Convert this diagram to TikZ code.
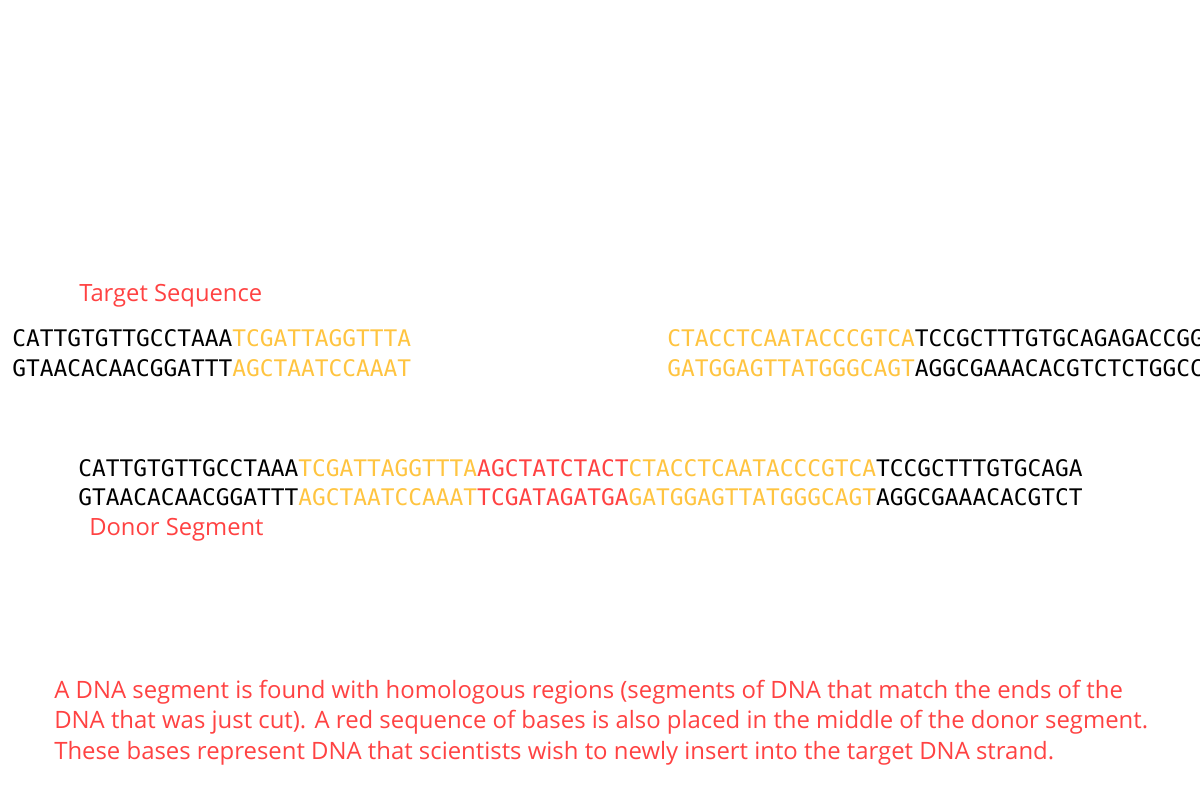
\documentclass[tikz,border=0pt]{standalone}
\usepackage{fontspec}
\setsansfont{Open Sans}
\setmonofont{DejaVu Sans Mono}

\definecolor{labred}{RGB}{255,66,66}
\definecolor{homgold}{RGB}{255,196,64}
\newcommand{\homseq}[1]{\textcolor{homgold}{#1}}
\newcommand{\insseq}[1]{\textcolor{labred}{#1}}

\begin{document}
\begin{tikzpicture}[
    x=0.025cm, y=-0.025cm,
    strand/.style={anchor=base west, inner sep=0pt,
                   font=\ttfamily\fontsize{16.25}{18}\selectfont},
    lbl/.style={anchor=base west, inner sep=0pt, text=labred,
                font=\sffamily\fontsize{16.9}{20}\selectfont},
    note/.style={anchor=base west, inner sep=0pt, align=left, text=labred,
                 font=\sffamily\fontsize{17}{21.5}\selectfont},
]

% --- page frame (1200 x 800 px) ---
\useasboundingbox (0,0) rectangle (1200,800);

% ============================================================
%  Target DNA, cut in two
% ============================================================
\node (tgtlbl) [lbl] at (79,301) {Target Sequence};

\node (tgtL1) [strand] at (12,346)
    {CATTGTGTTGCCTAAA\homseq{TCGATTAGGTTTA}};
\node (tgtL2) [strand] at (12,376)
    {GTAACACAACGGATTT\homseq{AGCTAATCCAAAT}};

% right piece runs off the page edge, as in the original
\node (tgtR1) [strand] at (667,346)
    {\homseq{CTACCTCAATACCCGTCA}TCCGCTTTGTGCAGAGACCGG};
\node (tgtR2) [strand] at (667,376)
    {\homseq{GATGGAGTTATGGGCAGT}AGGCGAAACACGTCTCTGGCC};

% ============================================================
%  Donor segment with insert
% ============================================================
\node (don1) [strand] at (78,476)
    {CATTGTGTTGCCTAAA\homseq{TCGATTAGGTTTA}\insseq{AGCTATCTACT}\homseq{CTACCTCAATACCCGTCA}TCCGCTTTGTGCAGA};
\node (don2) [strand] at (78,505)
    {GTAACACAACGGATTT\homseq{AGCTAATCCAAAT}\insseq{TCGATAGATGA}\homseq{GATGGAGTTATGGGCAGT}AGGCGAAACACGTCT};

\node (donlbl) [lbl] at (89,535) {Donor Segment};

% --- caption (base = last line) ---
\node (caption) [note] at (54,759)
    {A DNA segment is found with homologous regions (segments of DNA that match the ends of the\\
     DNA that was just cut). A red sequence of bases is also placed in the middle of the donor segment.\\
     These bases represent DNA that scientists wish to newly insert into the target DNA strand.};

\end{tikzpicture}
\end{document}
